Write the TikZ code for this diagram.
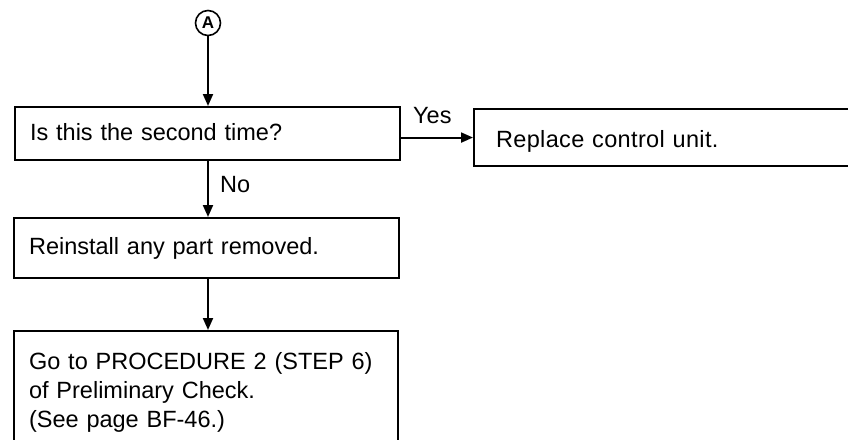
\documentclass[tikz,border=0pt]{standalone}
\usepackage{fontspec}
\setmainfont{Liberation Sans}
\usetikzlibrary{arrows.meta}
\begin{document}
\begin{tikzpicture}[x=1pt,y=-1pt,
  box/.style={draw, line width=2.1pt, anchor=north west, inner xsep=15pt, inner ysep=0pt,
    align=left, font=\fontsize{23.5}{29}\selectfont},
  flow/.style={line width=2pt, -{Triangle[length=12pt,width=10pt]}},
  lbl/.style={font=\fontsize{23.5}{29}\selectfont, anchor=base west, inner sep=0pt}]
\useasboundingbox (0,0) rectangle (848,439);
\clip (0,0) rectangle (848,439);
\node[draw, circle, line width=1.6pt, minimum size=25pt, inner sep=0pt,
  font=\fontsize{17}{17}\selectfont\bfseries] (a) at (208,23) {A};
\node[box, text width=355pt, minimum height=53pt, text height=17pt, text depth=4pt] (q) at (14,106) {Is this the second time?};
\node[box, inner xsep=22pt, text width=400pt, minimum height=57pt, text height=21pt, text depth=2pt] (r) at (473,108) {\addfontfeature{LetterSpace=1.5}Replace control unit.};
\node[box, text width=355pt, minimum height=60pt, text height=17pt, text depth=5pt] (ri) at (13,217) {Reinstall any part removed.};
\node[box, text width=354pt, minimum height=122pt] (go) at (13,330) {Go to PROCEDURE 2 (STEP 6)\\of Preliminary Check.\\(See page BF-46.)};
\node[lbl] (yes) at (413,123) {Yes};
\node[lbl] (no) at (220,192) {No};
\draw[flow] (a.south) -- (a.south |- q.north);
\draw[flow] (q.east |- r.west) -- (r.west);
\draw[flow] (q.south -| a) -- (ri.north -| a);
\draw[flow] (ri.south -| a) -- (go.north -| a);
\end{tikzpicture}
\end{document}
